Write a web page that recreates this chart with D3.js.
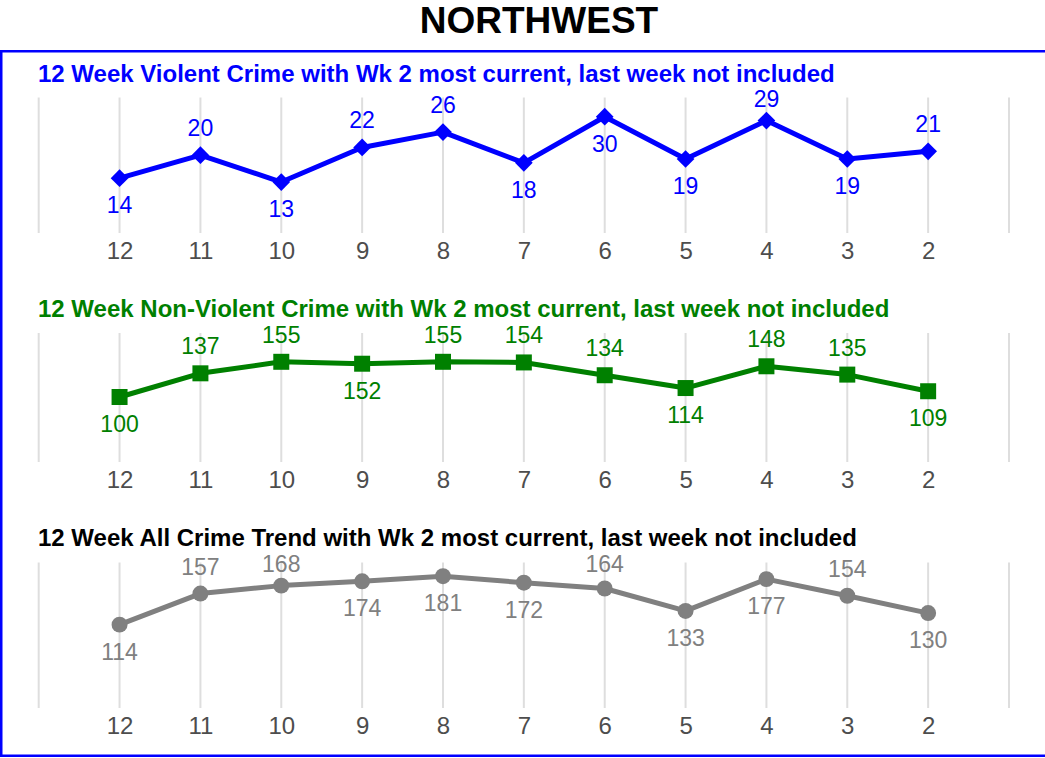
<!DOCTYPE html>
<html>
<head>
<meta charset="utf-8">
<script src="https://cdn.jsdelivr.net/npm/d3@7.9.0/dist/d3.min.js"></script>
<style>
  body { margin: 0; background: #fff; }
  svg { display: block; font-family: "Liberation Sans", Arial, sans-serif; }
</style>
</head>
<body>
<svg id="chart" width="1045" height="758"></svg>
<script>
// Week numbers along the x axis (oldest on the left)
const weeks = [12, 11, 10, 9, 8, 7, 6, 5, 4, 3, 2];
// Weekly counts per series
const violent = [14, 20, 13, 22, 26, 18, 30, 19, 29, 19, 21];
const nonViolent = [100, 137, 155, 152, 155, 154, 134, 114, 148, 135, 109];
const allCrime = [114, 157, 168, 174, 181, 172, 164, 133, 177, 154, 130];
// Which side of the point each value label sits on (-1 above, 1 below)
const violentSides = [1, -1, 1, -1, -1, 1, 1, 1, -1, 1, -1];
const nonViolentSides = [1, -1, -1, 1, -1, -1, -1, 1, -1, -1, 1];
const allCrimeSides = [1, -1, -1, 1, 1, 1, -1, 1, 1, -1, 1];

const panels = [
  { title: '12 Week Violent Crime with Wk 2 most current, last week not included',
    values: violent, sides: violentSides, color: '#0000ff', titleColor: '#0000ff',
    shape: d3.symbolDiamond2, symSize: 200, yMax: 35, top: 97.5, bottom: 233, titleY: 82 },
  { title: '12 Week Non-Violent Crime with Wk 2 most current, last week not included',
    values: nonViolent, sides: nonViolentSides, color: '#008000', titleColor: '#008000',
    shape: d3.symbolSquare, symSize: 256, yMax: 200, top: 333, bottom: 462, titleY: 317 },
  { title: '12 Week All Crime Trend with Wk 2 most current, last week not included',
    values: allCrime, sides: allCrimeSides, color: '#808080', titleColor: '#000000',
    shape: d3.symbolCircle, symSize: 200, yMax: 200, top: 562.5, bottom: 708, titleY: 546 }
];

const svg = d3.select('#chart');

// Main title
svg.append('text')
  .attr('x', 539).attr('y', 33)
  .attr('text-anchor', 'middle')
  .attr('font-size', 37).attr('font-weight', 'bold')
  .text('NORTHWEST');

// Blue frame around the three panels
svg.append('rect')
  .attr('x', 1.25).attr('y', 51.25)
  .attr('width', 1060).attr('height', 704.5)
  .attr('fill', 'none').attr('stroke', '#0000ff').attr('stroke-width', 2.5);

// Shared x scale: one extra week padded at each side
const x = d3.scaleLinear().domain([13, 1]).range([38.7, 1009]);

panels.forEach((p) => {
  const g = svg.append('g');
  const y = d3.scaleLinear().domain([0, p.yMax]).range([p.bottom - 1, p.top]);

  // Panel title
  g.append('text')
    .attr('x', 38).attr('y', p.titleY)
    .attr('font-size', 24).attr('font-weight', 'bold')
    .attr('fill', p.titleColor)
    .text(p.title);

  // Vertical grid lines
  g.selectAll('.grid')
    .data(d3.range(1, 14))
    .join('line')
    .attr('x1', (d) => x(d)).attr('x2', (d) => x(d))
    .attr('y1', p.top).attr('y2', p.bottom)
    .attr('stroke', '#dedede').attr('stroke-width', 2);

  // Week labels
  const axis = d3.axisBottom(x).tickValues(weeks).tickSize(0).tickPadding(0);
  const ax = g.append('g')
    .attr('transform', `translate(0,${p.bottom})`)
    .call(axis);
  ax.select('.domain').remove();
  ax.selectAll('text')
    .attr('font-family', null)
    .attr('font-size', 24)
    .attr('fill', '#4d4d4d')
    .attr('dy', null)
    .attr('y', 26);

  const pts = weeks.map((w, i) => ({ week: w, value: p.values[i], side: p.sides[i] }));

  // Trend line
  g.append('path')
    .datum(pts)
    .attr('fill', 'none')
    .attr('stroke', p.color)
    .attr('stroke-width', 5)
    .attr('stroke-linejoin', 'round')
    .attr('d', d3.line().x((d) => x(d.week)).y((d) => y(d.value)));

  // Markers
  g.selectAll('.marker')
    .data(pts)
    .join('path')
    .attr('transform', (d) => `translate(${x(d.week)},${y(d.value)})`)
    .attr('d', d3.symbol().type(p.shape).size(p.symSize))
    .attr('fill', p.color);

  // Value labels, kept inside the panel like a repel would
  g.selectAll('.val')
    .data(pts)
    .join('text')
    .attr('x', (d) => x(d.week))
    .attr('y', (d) => Math.max(y(d.value) + d.side * 27, p.top + 1) + 8)
    .attr('text-anchor', 'middle')
    .attr('font-size', 23)
    .attr('fill', p.color)
    .text((d) => d.value);
});
</script>
</body>
</html>
